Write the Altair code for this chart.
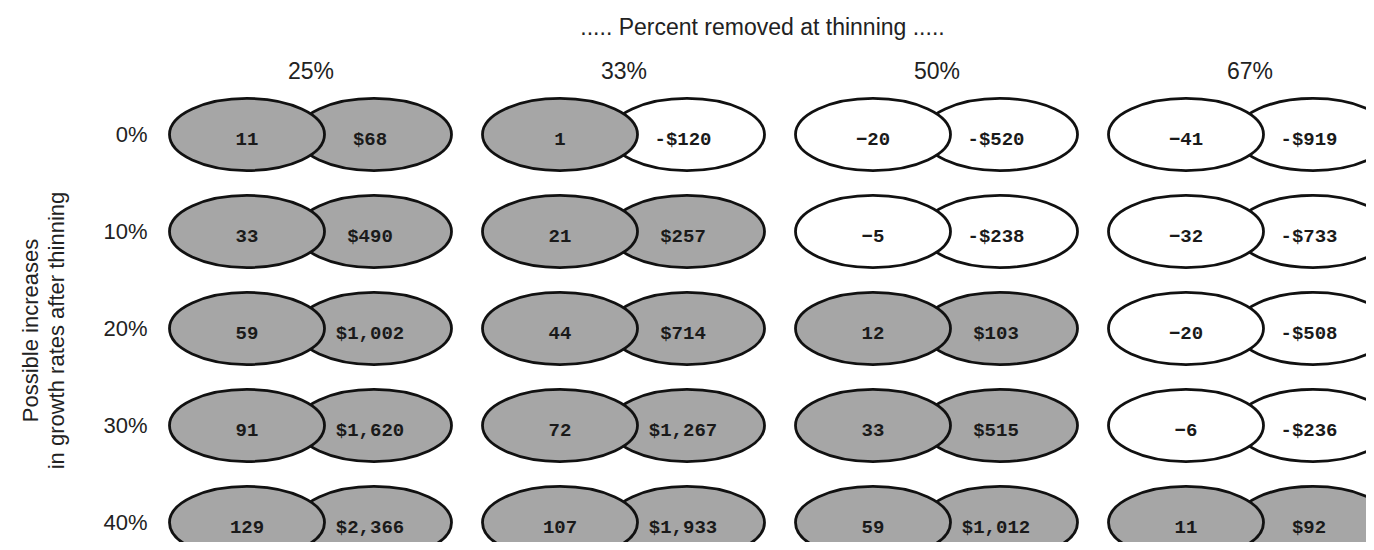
import altair as alt
import pandas as pd

# Data
thinning = ["25%", "33%", "50%", "67%"]          # percent removed at thinning (columns)
growth = ["0%", "10%", "20%", "30%", "40%"]      # possible growth increases (rows)

# left-ellipse values, one list per thinning level (rows 0%..40%)
volume = {
    "25%": [11, 33, 59, 91, 129],
    "33%": [1, 21, 44, 72, 107],
    "50%": [-20, -5, 12, 33, 59],
    "67%": [-41, -32, -20, -6, 11],
}
# right-ellipse dollar values
dollars = {
    "25%": [68, 490, 1002, 1620, 2366],
    "33%": [-120, 257, 714, 1267, 1933],
    "50%": [-520, -238, 103, 515, 1012],
    "67%": [-919, -733, -508, -236, 92],
}

records = []
for c in thinning:
    for i, r in enumerate(growth):
        records.append({"thin": c, "growth": r, "vol": volume[c][i], "usd": dollars[c][i]})
df = pd.DataFrame(records)

GRAY = "#a6a6a6"
ELLIPSE = "M -1 0 A 1 0.465 0 1 1 1 0 A 1 0.465 0 1 1 -1 0 Z"
HALF = 63.5

x_enc = alt.X(
    "thin:N", sort=thinning,
    scale=alt.Scale(paddingInner=0, paddingOuter=0, range=[0, 1252]),
    axis=alt.Axis(
        orient="top", title="..... Percent removed at thinning .....",
        labelAngle=0, labelFont="Liberation Sans", labelFontSize=23, labelColor="#222",
        labelPadding=3, ticks=False, domain=False, grid=False,
        titleFont="Liberation Sans", titleFontSize=23, titleFontWeight="normal",
        titleColor="#222", titleX=608, titleY=-52, titleAlign="center",
        titleBaseline="alphabetic", titleAnchor="start",
    ),
)
y_enc = alt.Y(
    "growth:N", sort=growth,
    scale=alt.Scale(paddingInner=0, paddingOuter=0, range=[0, 485]),
    axis=alt.Axis(
        orient="left", title=["Possible increases", "in growth rates after thinning"],
        labelFont="Liberation Sans", labelFontSize=22, labelColor="#222",
        labelPadding=7, ticks=False, domain=False, grid=False,
        titleFont="Liberation Sans", titleFontSize=22, titleFontWeight="normal",
        titleColor="#222", titleAngle=270, titleAlign="center", titleBaseline="top",
        titleX=-134, titleY=244, titleLineHeight=26,
    ),
)

base = alt.Chart(df).encode(x=x_enc, y=y_enc)

right_ell = base.mark_point(
    shape=ELLIPSE, size=24025, filled=True, opacity=1, stroke="#111",
    strokeWidth=2.8, xOffset=HALF,
).encode(fill=alt.condition("datum.usd > 0", alt.value(GRAY), alt.value("white")))

left_ell = base.mark_point(
    shape=ELLIPSE, size=24025, filled=True, opacity=1, stroke="#111",
    strokeWidth=2.8, xOffset=-HALF,
).encode(fill=alt.condition("datum.vol > 0", alt.value(GRAY), alt.value("white")))

txt_style = dict(font="Liberation Mono", fontSize=19, fontWeight="bold",
                 color="#1a1a1a", baseline="middle", dy=4)

left_txt = base.mark_text(xOffset=-HALF, **txt_style).encode(text="vol:Q")
right_txt = base.transform_calculate(
    lab="(datum.usd < 0 ? '-$' : '$') + format(abs(datum.usd), ',')"
).mark_text(xOffset=HALF - 4, **txt_style).encode(text="lab:N")

chart = alt.layer(right_ell, left_ell, left_txt, right_txt).properties(
    width=1212, height=456,
    padding={"left": 146, "top": 78, "right": 0, "bottom": 0},
    autosize=alt.AutoSizeParams(type="none"),
    background="white",
).configure_view(stroke=None)

chart.save("out.html", embed_options={"renderer": "svg", "actions": False})
